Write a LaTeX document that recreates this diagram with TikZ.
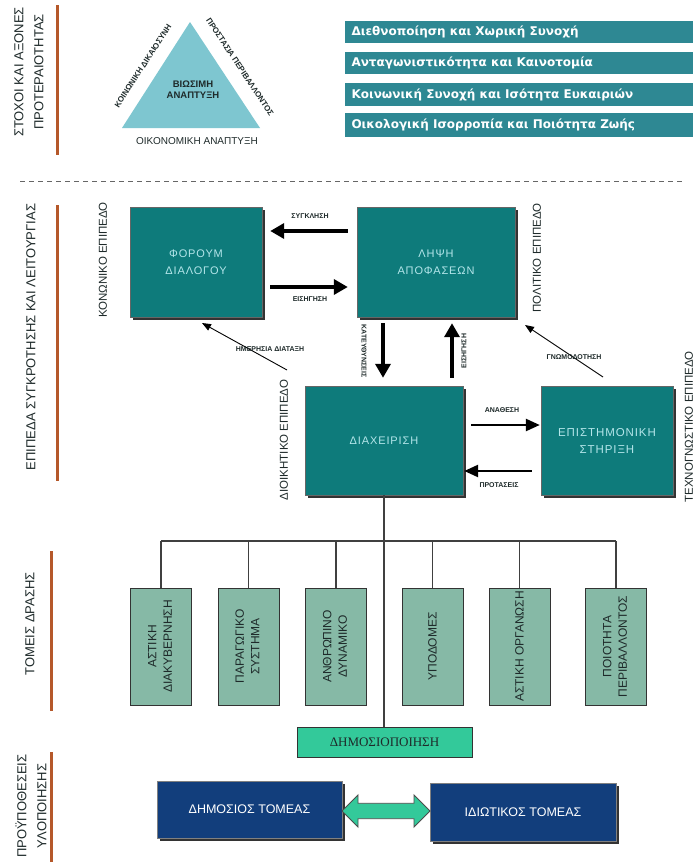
\documentclass[tikz,border=0pt]{standalone}
\usepackage{fontspec}
\setmainfont{Liberation Sans}
\newfontfamily\barfont{DejaVu Sans}
\newfontfamily\serfont{Liberation Serif}
\usetikzlibrary{arrows.meta,shapes.arrows,shadows,calc}
\definecolor{tealbox}{HTML}{0E7B7B}
\definecolor{tealtext}{HTML}{B4E6EA}
\definecolor{barcol}{HTML}{2E8893}
\definecolor{tri}{HTML}{7EC6D0}
\definecolor{orng}{HTML}{B5582A}
\definecolor{sage}{HTML}{86B9A6}
\definecolor{pubg}{HTML}{33C99A}
\definecolor{navy}{HTML}{123E7C}
\definecolor{ink}{HTML}{1E2A2A}
\begin{document}
\begin{tikzpicture}[x=1pt,y=-1pt,
  shad/.style={drop shadow={shadow xshift=2.5pt,shadow yshift=-2.5pt,fill=black!80,opacity=1}},
  tbox/.style={shad,draw=black!60,fill=tealbox,text=tealtext,align=center,
    font=\fontsize{11}{17}\selectfont\addfontfeature{LetterSpace=8}},
  sbox/.style={draw=black!80,line width=0.9pt,fill=sage,text=ink,align=center,
    minimum width=61pt,minimum height=117pt,inner sep=0pt},
  sboxfont/.style={font=\fontsize{12}{15.5}\selectfont},
  nbox/.style={shad,draw=black!50,fill=navy,text=white,align=center,
    font=\fontsize{12.5}{15}\selectfont},
  sidelab/.style={font=\fontsize{13}{20}\selectfont,align=center,text=ink,inner sep=0pt},
  levlab/.style={font=\fontsize{11.5}{13}\selectfont,text=ink,inner sep=0pt},
  arrlab/.style={font=\bfseries\fontsize{7}{8}\selectfont,text=ink,inner sep=0pt},
  obar/.style={line width=3pt,draw=orng},
  bigarr/.style={line width=3.5pt,-{Triangle[length=14pt,width=15pt]}},
  midarr/.style={line width=2.5pt,-{Triangle[length=14pt,width=12pt]}},
  thinarr/.style={line width=0.9pt,-{Triangle[length=9pt,width=7pt]}},
  conn/.style={line width=1.2pt,draw=black!75},
  gbar/.style={text=white,anchor=west,
    font=\barfont\bfseries\fontsize{12}{14}\selectfont}
]
\useasboundingbox (0,0) rectangle (696,862);
\fill[white] (0,0) rectangle (696,862);

% ---------- left side labels and orange bars
\node[sidelab,rotate=90] (l1) at (29,72) {ΣΤΟΧΟΙ ΚΑΙ ΑΞΟΝΕΣ\\ΠΡΟΤΕΡΑΙΟΤΗΤΑΣ};
\node[sidelab,rotate=90] (l2) at (31,337) {ΕΠΙΠΕΔΑ ΣΥΓΚΡΟΤΗΣΗΣ ΚΑΙ ΛΕΙΤΟΥΡΓΙΑΣ};
\node[sidelab,rotate=90] (l3) at (30,624) {ΤΟΜΕΙΣ ΔΡΑΣΗΣ};
\node[sidelab,rotate=90] (l4) at (31,806) {ΠΡΟΫΠΟΘΕΣΕΙΣ\\ΥΛΟΠΟΙΗΣΗΣ};
\draw[obar] (57,5) -- (57,155);
\draw[obar] (57,205) -- (57,481);
\draw[obar] (51,551) -- (51,711);
\draw[obar] (51,752) -- (51,862);

% ---------- triangle
\fill[tri] (190,22) -- (122,128) -- (260,128) -- cycle;
\node[font=\bfseries\fontsize{9.5}{11}\selectfont,align=center,text=ink] (tc) at (193,90) {ΒΙΩΣΙΜΗ\\ΑΝΑΠΤΥΞΗ};
\node[font=\bfseries\fontsize{8}{9}\selectfont,text=ink,rotate=57,inner sep=0pt] (tl) at (143,66) {ΚΟΙΝΩΝΙΚΗ ΔΙΚΑΙΟΣΥΝΗ};
\node[font=\bfseries\fontsize{8}{9}\selectfont,text=ink,rotate=-56.6,inner sep=0pt] (tr) at (240,67) {ΠΡΟΣΤΑΣΙΑ ΠΕΡΙΒΑΛΛΟΝΤΟΣ};
\node[font=\fontsize{10}{11}\selectfont,text=ink,inner sep=0pt] (tb) at (197,141) {ΟΙΚΟΝΟΜΙΚΗ ΑΝΑΠΤΥΞΗ};

% ---------- priority bars
\fill[barcol] (345,21) rectangle (693,43);
\fill[barcol] (345,52) rectangle (693,74);
\fill[barcol] (345,83) rectangle (693,106);
\fill[barcol] (345,113) rectangle (693,137);
\node[gbar] (b1) at (348,32) {Διεθνοποίηση και Χωρική Συνοχή};
\node[gbar] (b2) at (348,63) {Ανταγωνιστικότητα και Καινοτομία};
\node[gbar] (b3) at (348,94.5) {Κοινωνική Συνοχή και Ισότητα Ευκαιριών};
\node[gbar] (b4) at (348,125) {Οικολογική Ισορροπία και Ποιότητα Ζωής};

% ---------- dashed separator
\draw[black!60,line width=0.9pt,dash pattern=on 5pt off 4pt] (20,181) -- (684,181);

% ---------- level boxes
\node[tbox,minimum width=132pt,minimum height=110pt] (fd) at (196,262) {ΦΟΡΟΥΜ\\ΔΙΑΛΟΓΟΥ};
\node[tbox,minimum width=158pt,minimum height=110pt] (ld) at (436,262) {ΛΗΨΗ\\ΑΠΟΦΑΣΕΩΝ};
\node[tbox,minimum width=158pt,minimum height=109pt] (dx) at (384,440.5) {ΔΙΑΧΕΙΡΙΣΗ};
\node[tbox,minimum width=132pt,minimum height=109pt,font=\fontsize{11.5}{17}\selectfont\addfontfeature{LetterSpace=8}] (es) at (607,440.5) {ΕΠΙΣΤΗΜΟΝΙΚΗ\\ΣΤΗΡΙΞΗ};

\node[levlab,rotate=90] (lv1) at (103,260) {ΚΟΝΩΝΙΚΟ ΕΠΙΠΕΔΟ};
\node[levlab,rotate=90] (lv2) at (537,258) {ΠΟΛΙΤΙΚΟ ΕΠΙΠΕΔΟ};
\node[levlab,rotate=90] (lv3) at (284,440) {ΔΙΟΙΚΗΤΙΚΟ ΕΠΙΠΕΔΟ};
\node[levlab,rotate=90] (lv4) at (689,427) {ΤΕΧΝΟΓΝΩΣΤΙΚΟ ΕΠΙΠΕΔΟ};

% ---------- arrows between level boxes
\coordinate (ya) at (0,231);
\coordinate (yb) at (0,287);
\draw[bigarr,shorten <=9pt,shorten >=8pt] (ld.west |- ya) -- (fd.east |- ya);
\draw[bigarr,shorten <=8pt,shorten >=9pt] (fd.east |- yb) -- (ld.west |- yb);
\node[arrlab] (a1) at (310,216) {ΣΥΓΚΛΗΣΗ};
\node[arrlab] (a2) at (310,299) {ΕΙΣΗΓΗΣΗ};

\coordinate (xa) at (383,0);
\coordinate (xb) at (452,0);
\draw[bigarr,shorten <=6pt,shorten >=8pt] (ld.south -| xa) -- (dx.north -| xa);
\draw[bigarr,shorten <=8pt,shorten >=6pt] (dx.north -| xb) -- (ld.south -| xb);
\node[arrlab,rotate=-90] (a3) at (364,351) {ΚΑΤΕΥΘΥΝΣΕΙΣ};
\node[arrlab,rotate=90] (a4) at (464,351) {ΕΙΣΗΓΗΣΗ};

\coordinate (yc) at (0,425);
\coordinate (yd) at (0,471);
\draw[midarr,shorten <=8pt,shorten >=1pt] (dx.east |- yc) -- (es.west |- yc);
\draw[midarr,shorten <=9pt,shorten >=1pt] (es.west |- yd) -- (dx.east |- yd);
\node[arrlab] (a5) at (502,410) {ΑΝΑΘΕΣΗ};
\node[arrlab] (a6) at (499,485) {ΠΡΟΤΑΣΕΙΣ};

\coordinate (h1) at (287,370);
\coordinate (h2) at (202,323);
\draw[thinarr] (h1) -- (h2);
\node[arrlab] (a7) at (270,349) {ΗΜΕΡΗΣΙΑ ΔΙΑΤΑΞΗ};
\coordinate (g1) at (603,377);
\coordinate (g2) at (525,325);
\draw[thinarr] (g1) -- (g2);
\node[arrlab] (a8) at (574,357) {ΓΝΩΜΟΔΟΤΗΣΗ};

% ---------- sector boxes
\node[sbox] (s1) at (161,646.5) {\rotatebox{90}{\fontsize{12}{15.5}\selectfont\begin{tabular}{@{}c@{}}ΑΣΤΙΚΗ\\ΔΙΑΚΥΒΕΡΝΗΣΗ\end{tabular}}};
\node[sbox] (s2) at (248.5,646.5) {\rotatebox{90}{\fontsize{12}{15.5}\selectfont\begin{tabular}{@{}c@{}}ΠΑΡΑΓΩΓΙΚΟ\\ΣΥΣΤΗΜΑ\end{tabular}}};
\node[sbox] (s3) at (336,646.5) {\rotatebox{90}{\fontsize{12}{15.5}\selectfont\begin{tabular}{@{}c@{}}ΑΝΘΡΩΠΙΝΟ\\ΔΥΝΑΜΙΚΟ\end{tabular}}};
\node[sbox] (s4) at (432.5,646.5) {\rotatebox{90}{\fontsize{12}{15.5}\selectfont ΥΠΟΔΟΜΕΣ}};
\node[sbox] (s5) at (519.5,646.5) {\rotatebox{90}{\fontsize{12}{15.5}\selectfont ΑΣΤΙΚΗ ΟΡΓΑΝΩΣΗ}};
\node[sbox] (s6) at (616,646.5) {\rotatebox{90}{\fontsize{12}{15.5}\selectfont\begin{tabular}{@{}c@{}}ΠΟΙΟΤΗΤΑ\\ΠΕΡΙΒΑΛΛΟΝΤΟΣ\end{tabular}}};

\node[draw=black!80,line width=0.9pt,fill=pubg,minimum width=175pt,minimum height=30pt,
  font=\serfont\fontsize{13}{14}\selectfont,text=ink] (pub) at (384.5,742) {ΔΗΜΟΣΙΟΠΟΙΗΣΗ};

% ---------- connectors tree
\coordinate (bus) at (0,541);
\draw[conn] (s1.north |- bus) -- (s6.north |- bus);
\draw[conn] (dx.south) -- (dx.south |- pub.north);
\foreach \s in {s1,s2,s3,s4,s5,s6}{\draw[conn] (\s.north |- bus) -- (\s.north);}

% ---------- bottom boxes
\node[nbox,minimum width=185pt,minimum height=57pt] (ds) at (249.5,809.5) {ΔΗΜΟΣΙΟΣ ΤΟΜΕΑΣ};
\node[nbox,minimum width=186pt,minimum height=58pt] (it) at (523,812) {ΙΔΙΩΤΙΚΟΣ ΤΟΜΕΑΣ};
\node[double arrow,draw=black!70,line width=0.9pt,fill=pubg,minimum height=88pt,
  minimum width=32pt,double arrow head extend=8pt,inner sep=7pt] (dar) at (386,811) {};
\end{tikzpicture}
\end{document}
